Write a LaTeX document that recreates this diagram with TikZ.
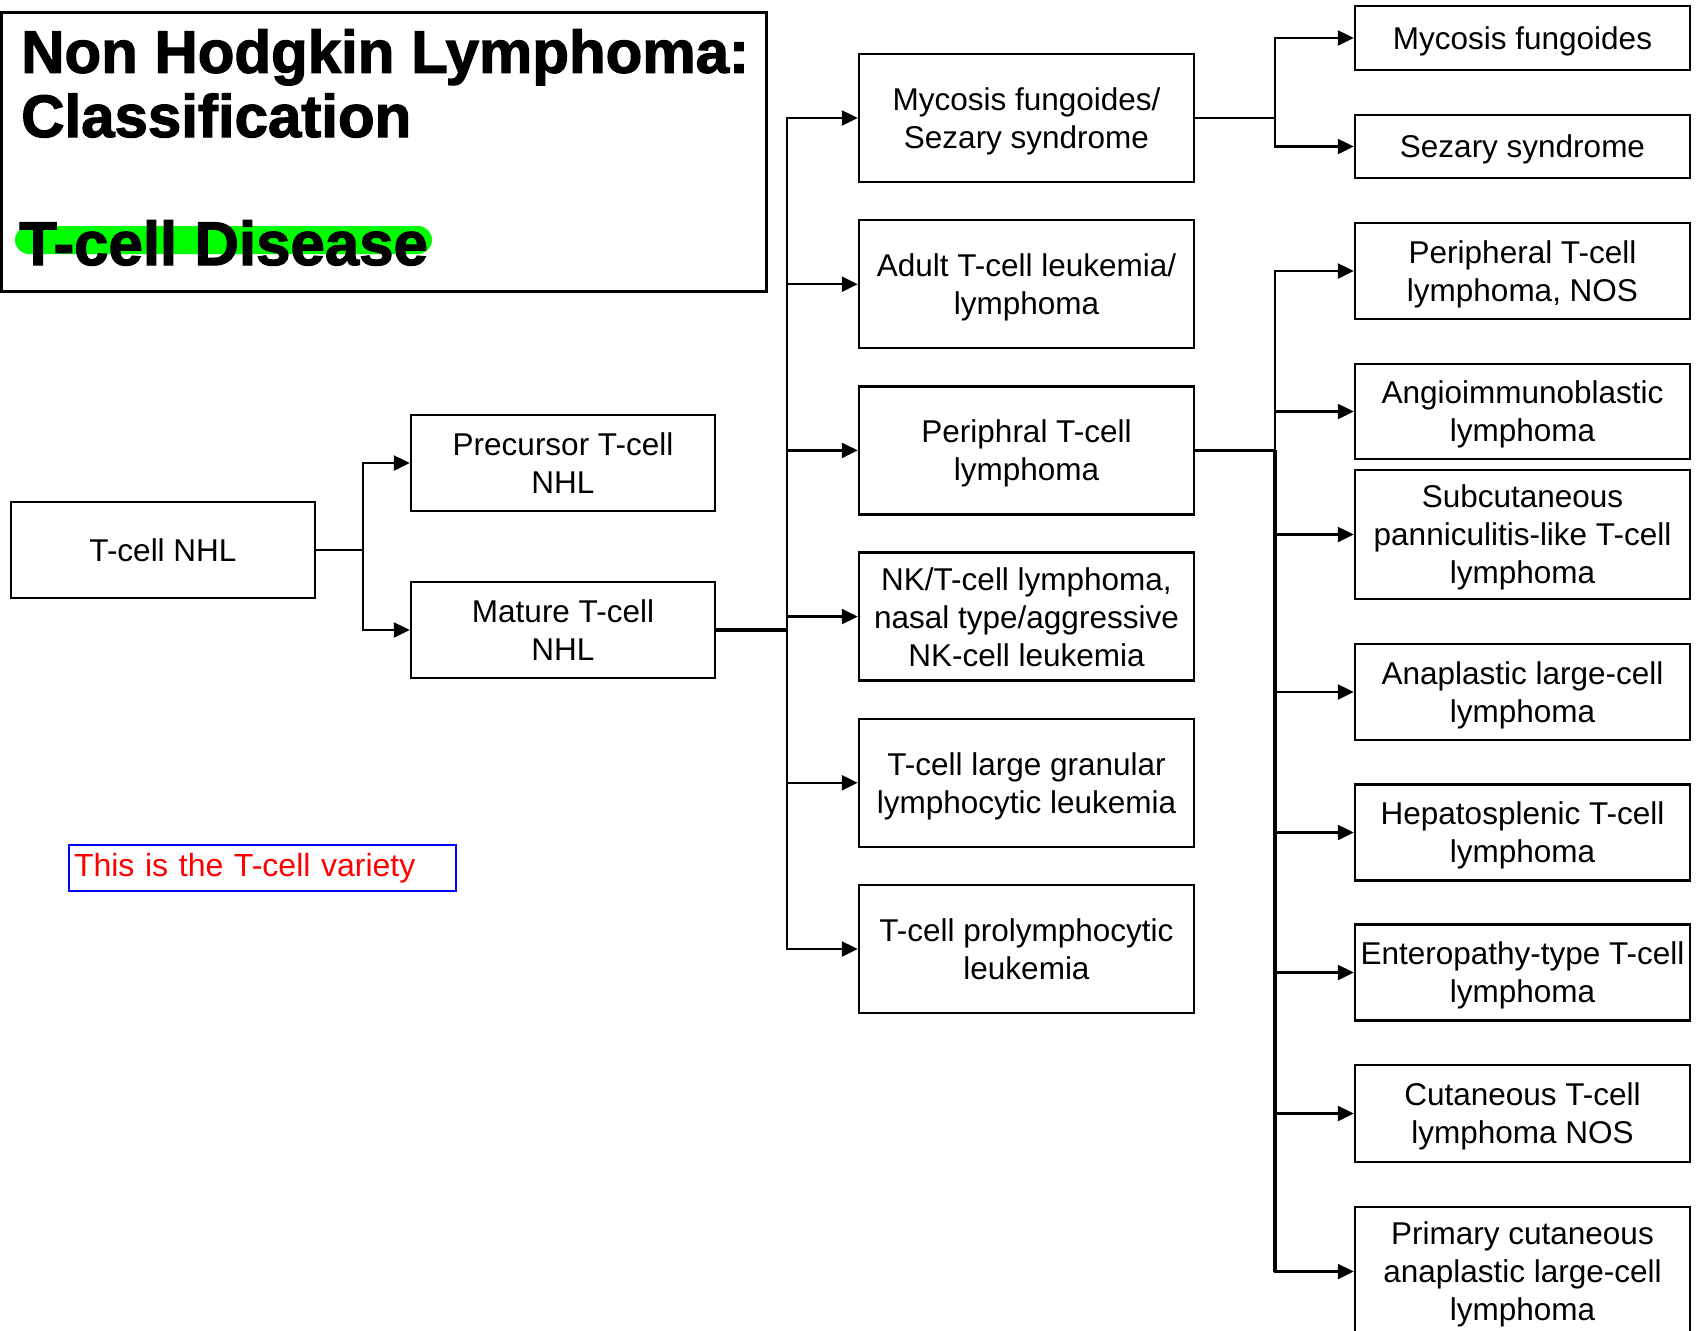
\documentclass[tikz,border=0pt]{standalone}
\usepackage{fontspec}
\setmainfont{Liberation Sans}
\newfontfamily\titlefont[FakeBold=2]{Liberation Sans Bold}
\usetikzlibrary{arrows.meta}
\begin{document}
\begin{tikzpicture}[x=1pt,y=-1pt,
  box/.style={draw, line width=2.5pt, align=center, inner sep=0pt,
    text depth=0pt,
    font=\fontsize{31.5}{38}\selectfont},
  lbox/.style={box, minimum width=304pt, minimum height=96pt},
  mbox/.style={box, minimum width=335pt, minimum height=128pt},
  rbox/.style={box, minimum width=335pt},
  conn/.style={line width=2.5pt},
  thick conn/.style={line width=3.5pt},
  arr/.style={conn, -{Triangle[length=16pt,width=15pt]}},
  ttl/.style={anchor=base west, inner sep=0pt, font=\titlefont\fontsize{60}{64}\selectfont},
]
\clip (0,0) rectangle (1698,1331);
\fill[white] (0,0) rectangle (1698,1331);

% title
\node[draw, line width=3pt, minimum width=765pt, minimum height=278.5pt, inner sep=0pt] (tbox) at (384.25,151.75) {};
\node[ttl] (t1) at (21,72.7) {Non Hodgkin Lymphoma:};
\node[ttl] (t2) at (21,137) {Classification};
\node[fill={rgb,255:red,0;green,255;blue,0}, rounded corners=14pt, minimum width=417pt, minimum height=28pt, inner sep=0pt] (hl) at (223.5,240) {};
\node[ttl, font=\titlefont\fontsize{61.8}{64}\selectfont] (t3) at (19,265) {T-cell Disease};

% left column
\node[lbox] (tnhl) at (163,550) {T-cell NHL};
\node[lbox] (pre) at (563,463) {Precursor T-cell\\NHL};
\node[lbox] (mat) at (563,630) {Mature T-cell\\NHL};

% note
\node[draw={rgb,255:red,0;green,0;blue,255}, line width=2pt, minimum width=387pt, minimum height=46pt,
  text width=377pt, inner xsep=5pt, inner ysep=0pt, align=left, text={rgb,255:red,255;green,0;blue,0},
  font=\fontsize{32}{38}\selectfont] (note) at (262.5,868) {This is the T-cell variety};

% middle column
\node[mbox] (m1) at (1026.5,118) {Mycosis fungoides/\\Sezary syndrome};
\node[mbox] (m2) at (1026.5,284.2) {Adult T-cell leukemia/\\lymphoma};
\node[mbox] (m3) at (1026.5,450.4) {Periphral T-cell\\lymphoma};
\node[mbox] (m4) at (1026.5,616.6) {NK/T-cell lymphoma,\\nasal type/aggressive\\NK-cell leukemia};
\node[mbox] (m5) at (1026.5,782.8) {T-cell large granular\\lymphocytic leukemia};
\node[mbox] (m6) at (1026.5,949) {T-cell prolymphocytic\\leukemia};

% right column
\node[rbox, minimum height=64pt] (rmf) at (1522.5,38) {Mycosis fungoides};
\node[rbox, minimum height=63pt] (rss) at (1522.5,146.5) {Sezary syndrome};
\node[rbox, minimum height=96pt] (rp) at (1522.5,271) {Peripheral T-cell\\lymphoma, NOS};
\node[rbox, minimum height=95pt] (ra) at (1522.5,411.5) {Angioimmunoblastic\\lymphoma};
\node[rbox, minimum height=129pt] (rs) at (1522.5,534.5) {Subcutaneous\\panniculitis-like T-cell\\lymphoma};
\node[rbox, minimum height=96pt] (ran) at (1522.5,692) {Anaplastic large-cell\\lymphoma};
\node[rbox, minimum height=96pt] (rh) at (1522.5,832.5) {Hepatosplenic T-cell\\lymphoma};
\node[rbox, minimum height=96pt] (re) at (1522.5,972.5) {Enteropathy-type T-cell\\lymphoma};
\node[rbox, minimum height=97pt] (rc) at (1522.5,1113.5) {Cutaneous T-cell\\lymphoma NOS};
\node[rbox, minimum height=129pt] (rpc) at (1522.5,1271.5) {Primary cutaneous\\anaplastic large-cell\\lymphoma};

% connectors
\coordinate (j1) at (363,550);
\draw[conn] (tnhl.east) -- (j1);
\draw[arr] (j1) |- (pre.west);
\draw[arr] (j1) |- (mat.west);

\coordinate (j2) at (787,630);
\draw[thick conn] (mat.east) -- (j2);
\foreach \n in {m1,m2,m3,m4,m5,m6} \draw[arr] (j2) |- (\n.west);

\coordinate (j3) at (1275,118);
\draw[conn] (m1.east) -- (j3);
\draw[arr] (j3) |- (rmf.west);
\draw[arr] (j3) |- (rss.west);

\coordinate (j4) at (1275,450.4);
\draw[thick conn] (m3.east) -- (j4);
\foreach \n in {rp,ra,rs,ran,rh,re,rc,rpc} \draw[arr] (j4) |- (\n.west);
\draw[thick conn] (j4) -- (j4 |- rpc.west);
\end{tikzpicture}
\end{document}
